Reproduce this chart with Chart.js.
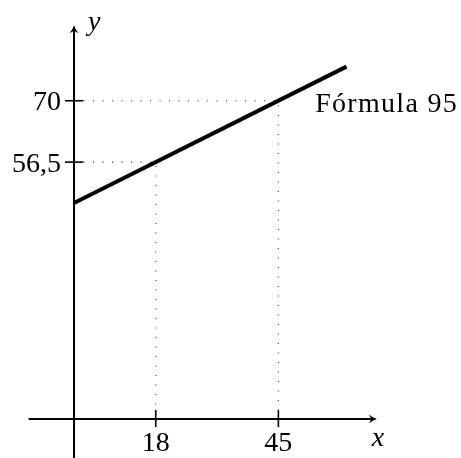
<!DOCTYPE html>
<html>
<head>
<meta charset="utf-8">
<script src="https://cdn.jsdelivr.net/npm/chart.js@4"></script>
<style>
  html, body { margin: 0; padding: 0; background: #fff; }
  #wrap { width: 461px; height: 458px; position: relative; }
</style>
</head>
<body>
<div id="wrap"><canvas id="grafico"></canvas></div>
<script>
/* ── Dados ── */
const lineX = [0, 60];
const lineY = [47.5, 77.5];
const guideX = [18, 45];
const guideY = [56.5, 70];
const xTickLabels = ['18', '45'];
const yTickLabels = ['56,5', '70'];
const seriesLabel = 'Fórmula 95';

const FONT = "'Liberation Serif', 'DejaVu Serif', serif";

/* ── Eixos com setas, marcas e rótulos ── */
const axesPlugin = {
  id: 'axes',
  beforeDatasetsDraw(chart) {
    const { ctx, scales: { x, y } } = chart;
    const x0 = x.getPixelForValue(0);
    const y0 = y.getPixelForValue(0);
    ctx.save();
    ctx.strokeStyle = '#000';
    ctx.fillStyle = '#000';
    ctx.lineWidth = 2;

    // eixo x
    const xl = x.getPixelForValue(-10), xr = x.getPixelForValue(66.7);
    ctx.beginPath(); ctx.moveTo(xl, y0); ctx.lineTo(xr - 2, y0); ctx.stroke();
    arrow(ctx, xr, y0, 0);

    // eixo y
    const yb = y.getPixelForValue(-8.6), yt = y.getPixelForValue(86.6);
    ctx.beginPath(); ctx.moveTo(x0, yb); ctx.lineTo(x0, yt + 2); ctx.stroke();
    arrow(ctx, x0, yt, -Math.PI / 2);

    // marcas
    ctx.lineWidth = 1.6;
    guideX.forEach(v => {
      const px = x.getPixelForValue(v);
      ctx.beginPath(); ctx.moveTo(px, y0 - 9); ctx.lineTo(px, y0 + 8); ctx.stroke();
    });
    guideY.forEach(v => {
      const py = y.getPixelForValue(v);
      ctx.beginPath(); ctx.moveTo(x0 - 9, py); ctx.lineTo(x0 + 9, py); ctx.stroke();
    });

    // rótulos
    ctx.font = '28px ' + FONT;
    ctx.textBaseline = 'alphabetic';
    ctx.textAlign = 'center';
    guideX.forEach((v, i) => {
      ctx.fillText(xTickLabels[i], x.getPixelForValue(v), y0 + 32);
    });
    ctx.textAlign = 'right';
    guideY.forEach((v, i) => {
      ctx.fillText(yTickLabels[i], x0 - 13, y.getPixelForValue(v) + 9.5);
    });

    ctx.font = 'italic 28px ' + FONT;
    ctx.textAlign = 'center';
    ctx.fillText('x', xr + 1, y0 + 27);
    ctx.textAlign = 'left';
    ctx.fillText('y', x0 + 14, yt + 5);

    ctx.font = '28px ' + FONT;
    ctx.letterSpacing = '1.3px';
    ctx.fillText(seriesLabel, x.getPixelForValue(53.1), y.getPixelForValue(67.5));
    ctx.restore();
  }
};

function arrow(ctx, px, py, ang) {
  ctx.save();
  ctx.translate(px, py);
  ctx.rotate(ang);
  ctx.beginPath();
  ctx.moveTo(0, 0);
  ctx.quadraticCurveTo(-4, -1, -8, -4.5);
  ctx.lineTo(-5.5, 0);
  ctx.lineTo(-8, 4.5);
  ctx.quadraticCurveTo(-4, 1, 0, 0);
  ctx.closePath();
  ctx.fill();
  ctx.restore();
}

const guideSets = guideX.map((gx, i) => ({
  data: [{ x: 0, y: guideY[i] }, { x: gx, y: guideY[i] }, { x: gx, y: 0 }],
  showLine: true,
  borderColor: '#333',
  borderWidth: 1.1,
  borderDash: [1.1, 8.4],
  pointRadius: 0,
  fill: false,
}));

new Chart(document.getElementById('grafico'), {
  type: 'scatter',
  data: {
    datasets: [
      {
        label: seriesLabel,
        data: lineX.map((v, i) => ({ x: v, y: lineY[i] })),
        showLine: true,
        borderColor: '#000',
        borderWidth: 4,
        borderCapStyle: 'butt',
        pointRadius: 0,
        fill: false,
      },
      ...guideSets
    ]
  },
  options: {
    responsive: true,
    maintainAspectRatio: false,
    animation: false,
    layout: { padding: { left: 28.6, right: 69.1, top: 9.8, bottom: 2.6 } },
    plugins: { legend: { display: false }, tooltip: { enabled: false } },
    scales: {
      x: { type: 'linear', min: -10, max: 70, display: false },
      y: { type: 'linear', min: -8, max: 90, display: false }
    }
  },
  plugins: [axesPlugin]
});
</script>
</body>
</html>
